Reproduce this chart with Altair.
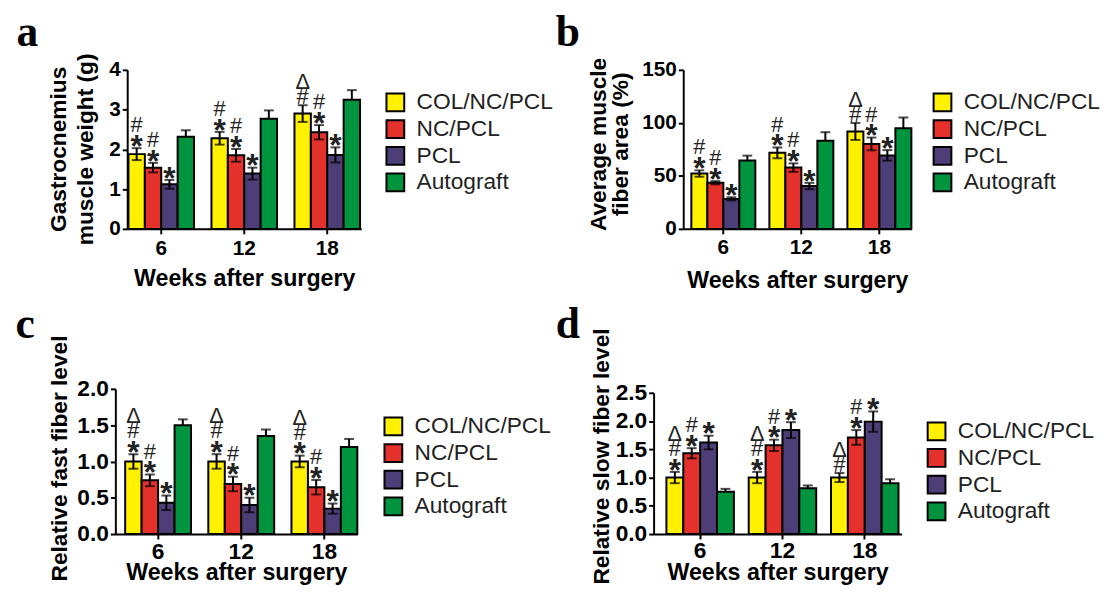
import altair as alt
import pandas as pd

weeks = ["6", "12", "18"]
groups = ["COL/NC/PCL", "NC/PCL", "PCL", "Autograft"]
colors = ["#FFF100", "#E5312B", "#4E3E78", "#00943F"]

# ---- panel a: gastrocnemius muscle weight (g) ----
a_means = [[1.88, 2.28, 2.90], [1.54, 1.85, 2.43], [1.12, 1.39, 1.86], [2.32, 2.77, 3.25]]
a_errs = [[0.15, 0.16, 0.21], [0.12, 0.16, 0.18], [0.11, 0.15, 0.19], [0.16, 0.21, 0.24]]
a_marks = [[["*", "#"], ["*", "#"], ["*"], []],
           [["*", "#"], ["*", "#"], ["*"], []],
           [["#", "Δ"], ["*", "#"], ["*"], []]]

# ---- panel b: average muscle fiber area (%) ----
b_means = [[52.2, 71.7, 91.9], [43.5, 57.8, 80.1], [28.3, 40.4, 69.3], [64.6, 83.2, 95.0]]
b_errs = [[3.0, 5.0, 8.0], [1.5, 4.0, 6.0], [1.5, 3.0, 5.0], [4.5, 8.0, 10.0]]
b_marks = [[["*", "#"], ["*", "#"], ["*"], []],
           [["*", "#"], ["*", "#"], ["*"], []],
           [["#", "Δ"], ["*", "#"], ["*"], []]]

# ---- panel c: relative fast fiber level ----
c_means = [[1.00, 1.00, 1.00], [0.74, 0.69, 0.645], [0.43, 0.40, 0.35], [1.50, 1.35, 1.20]]
c_errs = [[0.10, 0.10, 0.08], [0.08, 0.10, 0.10], [0.10, 0.10, 0.07], [0.08, 0.09, 0.11]]
c_marks = [[["*", "#", "Δ"], ["*", "#"], ["*"], []],
           [["*", "#", "Δ"], ["*", "#"], ["*"], []],
           [["*", "#", "Δ"], ["*", "#"], ["*"], []]]

# ---- panel d: relative slow fiber level ----
d_means = [[1.00, 1.00, 1.00], [1.43, 1.57, 1.71], [1.62, 1.84, 1.99], [0.75, 0.81, 0.90]]
d_errs = [[0.10, 0.10, 0.08], [0.09, 0.10, 0.13], [0.12, 0.14, 0.18], [0.05, 0.05, 0.07]]
d_marks = [[["*", "#", "Δ"], ["*", "#"], ["*"], []],
           [["*", "#", "Δ"], ["*", "#"], ["*"], []],
           [["#", "Δ"], ["*", "#"], ["*"], []]]


def make_df(means, errs):
    rows = []
    for gi, g in enumerate(groups):
        for wi, w in enumerate(weeks):
            m, e = means[gi][wi], errs[gi][wi]
            lo = m if g == "Autograft" else m - e
            rows.append(dict(week=w, group=g, mean=m, lo=lo, hi=m + e))
    return pd.DataFrame(rows)


def make_ann(means, errs, marks):
    rows = []
    for wi, w in enumerate(weeks):
        for gi, g in enumerate(groups):
            for lvl, s in enumerate(marks[wi][gi]):
                rows.append(dict(week=w, group=g, sym=s, level=lvl,
                                 top=means[gi][wi] + errs[gi][wi]))
    return pd.DataFrame(rows)


SYM_SIZE = {"*": 32, "#": 22, "Δ": 22}
SYM_WEIGHT = {"*": "bold", "#": "normal", "Δ": "normal"}
SYM_CENTER = {"*": 17.8, "#": 7.9, "Δ": 7.9}


def panel(df, ann, cfg):
    ys = alt.Scale(domain=[0, cfg["ymax"]], nice=False, zero=True, range=cfg["yrange"])
    xs = alt.Scale(domain=weeks, range=cfg["xrange"], paddingInner=cfg["pi"],
                   paddingOuter=cfg["po"], align=cfg["align"])
    xaxis = alt.Axis(title="Weeks after surgery", labelAngle=0, labelPadding=cfg["xlp"],
                     tickSize=5, titleFontSize=23.5, titleY=cfg["xty"],
                     titleBaseline="alphabetic", labelFontSize=cfg["lfs"])
    yaxis = alt.Axis(title=cfg["ytitle"], values=cfg["yticks"], format=cfg["fmt"],
                     tickSize=5, labelPadding=2, titleAngle=270, titleX=cfg["ytx"],
                     titleY=cfg["yty"], titleBaseline="alphabetic", titleAlign="center",
                     titleLineHeight=cfg["ylh"], titleFontSize=23, labelFontSize=cfg["lfs"],
                     offset=cfg["yoff"])
    X = alt.X("week:N", sort=weeks, scale=xs, axis=xaxis)
    XO = alt.XOffset("group:N", sort=groups,
                     scale=alt.Scale(domain=groups, paddingInner=0, paddingOuter=0))
    legend = alt.Legend(orient="none", legendX=cfg["lx"], legendY=cfg["ly"], title=None,
                        symbolType="square", symbolSize=324, symbolStrokeColor="black",
                        symbolStrokeWidth=2, symbolOpacity=1, labelFontSize=23,
                        labelFont="Liberation Sans", labelColor="#222222",
                        labelFontWeight="normal", labelOffset=10, rowPadding=0,
                        padding=0, labelLimit=400)
    bars = alt.Chart(df).mark_bar(stroke="black", strokeWidth=2, opacity=1).encode(
        x=X, xOffset=XO,
        y=alt.Y("mean:Q", scale=ys, axis=yaxis),
        color=alt.Color("group:N", sort=groups,
                        scale=alt.Scale(domain=groups, range=colors), legend=legend))
    rule = alt.Chart(df).mark_rule(color="black", strokeWidth=2).encode(
        x=X, xOffset=XO, y=alt.Y("lo:Q", scale=ys, axis=yaxis), y2="hi:Q")
    cap_hi = alt.Chart(df).mark_tick(color="black", thickness=2, size=10).encode(
        x=X, xOffset=XO, y=alt.Y("hi:Q", scale=ys, axis=yaxis))
    cap_lo = alt.Chart(df).transform_filter(alt.datum.group != "Autograft").mark_tick(
        color="black", thickness=2, size=10).encode(
        x=X, xOffset=XO, y=alt.Y("lo:Q", scale=ys, axis=yaxis))
    layers = [bars, rule, cap_hi, cap_lo]
    for s in ["*", "#", "Δ"]:
        for lvl in range(3):
            dy = -(9 + 15 * lvl) + SYM_CENTER[s]
            layers.append(
                alt.Chart(ann).transform_filter(
                    (alt.datum.sym == s) & (alt.datum.level == lvl)
                ).mark_text(fontSize=SYM_SIZE[s], font="Liberation Sans", color="#222222",
                            fontWeight=SYM_WEIGHT[s], baseline="alphabetic", align="center",
                            dy=dy).encode(
                    x=X, xOffset=XO, y=alt.Y("top:Q", scale=ys, axis=yaxis), text="sym:N"))
    letter = alt.Chart(pd.DataFrame({"t": [cfg["letter"]]})).mark_text(
        font="Liberation Serif", fontWeight="bold", fontSize=44, color="black",
        align="left", baseline="alphabetic").encode(
        x=alt.value(cfg["letx"]), y=alt.value(cfg["lety"]), text="t:N")
    layers.append(letter)
    return alt.layer(*layers).properties(width=cfg["W"], height=cfg["H"])


# Each panel's view: a and c share a column starting at the same x; the plot area of
# a (and b) is inset inside its view through the scale range and an inward axis offset.
cfg_a = dict(ymax=4, yticks=[0, 1, 2, 3, 4], fmt="d", ytitle=["Gastrocnemius", "muscle weight (g)"],
             ytx=-62, yty=80, ylh=27, W=249, H=161, xrange=[12, 249], yrange=[161, 0], yoff=-12,
             pi=0.21, po=0.015, align=0.5, xlp=4, xty=57,
             lx=272, ly=21.5, letter="a", letx=-100, lety=-23.8, lfs=21)
cfg_b = dict(ymax=150, yticks=[0, 50, 100, 150], fmt="d", ytitle=["Average muscle", "fiber area (%)"],
             ytx=-79, yty=75, ylh=23, W=261, H=161, xrange=[30, 261], yrange=[161, 0], yoff=-30,
             pi=0.18, po=0.052, align=1, xlp=3, xty=59,
             lx=281, ly=21.5, letter="b", letx=-99, lety=-23.8, lfs=21)
cfg_c = dict(ymax=2, yticks=[0, 0.5, 1, 1.5, 2], fmt=".1f", ytitle="Relative fast fiber level",
             ytx=-49, yty=70, ylh=23, W=245, H=147, xrange=[0, 245], yrange=[147, 0], yoff=0,
             pi=0.208, po=0.059, align=1, xlp=2, xty=46,
             lx=270, ly=26.5, letter="c", letx=-101, lety=-52, lfs=23)
cfg_d = dict(ymax=2.5, yticks=[0, 0.5, 1, 1.5, 2, 2.5], fmt=".1f", ytitle="Relative slow fiber level",
             ytx=-46, yty=68, ylh=23, W=251, H=147, xrange=[0, 251], yrange=[147, 4], yoff=0,
             pi=0.18, po=0.096, align=0.81, xlp=1, xty=46,
             lx=275, ly=31.5, letter="d", letx=-99, lety=-52, lfs=23)

pa = panel(make_df(a_means, a_errs), make_ann(a_means, a_errs, a_marks), cfg_a)
pb = panel(make_df(b_means, b_errs), make_ann(b_means, b_errs, b_marks), cfg_b)
pc = panel(make_df(c_means, c_errs), make_ann(c_means, c_errs, c_marks), cfg_c)
pd_ = panel(make_df(d_means, d_errs), make_ann(d_means, d_errs, d_marks), cfg_d)

chart = alt.concat(
    pa, pb, pc, pd_, columns=2, bounds="flush", align="each",
    spacing={"row": 162, "column": 296},
).resolve_scale(
    color="independent", x="independent", y="independent", xOffset="independent"
).properties(
    padding={"left": 7.7, "top": 0, "right": 0, "bottom": 0},
    background="white",
).configure_view(stroke=None).configure_axis(
    domainColor="black", domainWidth=2, tickColor="black", tickWidth=2,
    labelColor="black", titleColor="black", labelFont="Liberation Sans",
    titleFont="Liberation Sans", labelFontWeight="bold", titleFontWeight="bold",
    labelFontSize=21, titleFontSize=21, grid=False,
)

chart.save("out.html", embed_options={"renderer": "svg", "actions": False})
